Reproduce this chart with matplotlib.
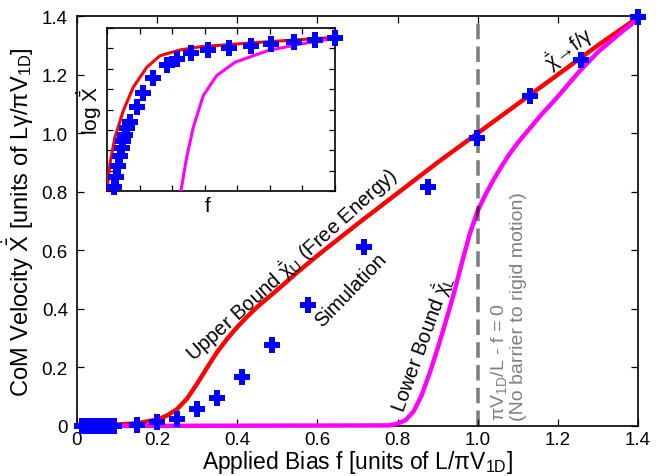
import matplotlib
matplotlib.use('Agg')
import matplotlib.pyplot as plt

plt.rcParams['font.family'] = ['Liberation Sans', 'DejaVu Sans']
plt.rcParams['mathtext.fontset'] = 'custom'
plt.rcParams['mathtext.rm'] = 'Liberation Sans'
plt.rcParams['mathtext.it'] = 'Liberation Sans'
plt.rcParams['mathtext.sf'] = 'Liberation Sans'
plt.rcParams['mathtext.bf'] = 'Liberation Sans:bold'

# ---------------- data ----------------
upper_f = [0, 0.05, 0.1, 0.15, 0.2, 0.225, 0.25, 0.275, 0.3, 0.325, 0.35, 0.375,
           0.4, 0.425, 0.45, 0.5, 0.55, 0.6, 0.7, 0.8, 0.9, 1.0, 1.1, 1.2, 1.3, 1.4]
upper_v = [0, 0.001, 0.005, 0.009, 0.022, 0.036, 0.058, 0.094, 0.145, 0.200, 0.253, 0.298,
           0.338, 0.374, 0.407, 0.465, 0.525, 0.582, 0.690, 0.795, 0.900, 1.0, 1.1, 1.2, 1.3, 1.395]

lower_f = [0, 0.78, 0.80, 0.82, 0.84, 0.86, 0.88, 0.90, 0.92, 0.94, 0.96, 0.98, 1.0,
           1.02, 1.04, 1.06, 1.08, 1.10, 1.12, 1.16, 1.2, 1.25, 1.3, 1.35, 1.4]
lower_v = [0, 0.002, 0.008, 0.020, 0.050, 0.105, 0.180, 0.265, 0.355, 0.450, 0.555, 0.655, 0.735,
           0.792, 0.842, 0.888, 0.930, 0.967, 1.000, 1.065, 1.125, 1.205, 1.277, 1.335, 1.390]

sim_f = [0.012, 0.020, 0.028, 0.036, 0.044, 0.052, 0.060, 0.068, 0.076, 0.084, 0.092,
         0.149, 0.199, 0.249, 0.299, 0.349, 0.411, 0.487, 0.576, 0.717, 0.877, 0.998, 1.131, 1.259, 1.40]
sim_v = [0, 0, 0, 0, 0, 0, 0, 0, 0, 0, 0,
         0.002, 0.015, 0.024, 0.058, 0.095, 0.168, 0.277, 0.414, 0.610, 0.816, 0.982, 1.126, 1.251, 1.395]

barrier_f = 1.0

tick_vals = [0, 0.2, 0.4, 0.6, 0.8, 1.0, 1.2, 1.4]
tick_labels = ['0', '0.2', '0.4', '0.6', '0.8', '1.0', '1.2', '1.4']

# inset (log of velocity vs f)
in_upper_f = [0, 0.018, 0.049, 0.100, 0.161, 0.244, 0.325, 0.448, 0.571, 0.939, 1.40]
in_upper_y = [-8.0, -6.67, -5.36, -4.06, -2.91, -1.93, -1.36, -1.08, -0.92, -0.70, -0.46]
in_lower_f = [0.454, 0.489, 0.530, 0.591, 0.673, 0.786, 0.988, 1.185, 1.40]
in_lower_y = [-8.0, -6.35, -4.87, -3.32, -2.34, -1.68, -1.11, -0.79, -0.51]
in_sim_f = [0.043, 0.055, 0.069, 0.080, 0.090, 0.100, 0.110, 0.125, 0.141, 0.187, 0.224,
            0.284, 0.366, 0.432, 0.516, 0.622, 0.751, 0.886, 1.005, 1.146, 1.277, 1.402]
in_sim_y = [-7.82, -7.33, -6.77, -6.28, -5.89, -5.57, -5.25, -4.93, -4.61, -3.88, -3.17,
            -2.45, -1.83, -1.52, -1.24, -1.08, -1.00, -0.90, -0.77, -0.70, -0.57, -0.49]
in_xticks = [0, 0.2, 0.4, 0.6, 0.8, 1.0, 1.2, 1.4]
in_yticks = [-8, -7, -6, -5, -4, -3, -2, -1, 0]

# ---------------- figure ----------------
fig = plt.figure(figsize=(6.65, 4.77), dpi=100)
ax = fig.add_axes([77/665, 1 - 427/477, 561/665, 410/477])

ax.plot(upper_f, upper_v, color='#ff0000', lw=3.2, solid_capstyle='butt',
        solid_joinstyle='round', zorder=3, clip_on=False)
ax.plot(lower_f, lower_v, color='#ff00ff', lw=3.2, solid_capstyle='butt',
        solid_joinstyle='round', zorder=3.5, clip_on=False)
ax.axvline(barrier_f, color='black', alpha=0.5, lw=2.6, linestyle=(0, (4.3, 2.0)), zorder=4)
ax.plot(sim_f, sim_v, linestyle='none', marker='P', markersize=11, color='#0000ff',
        markeredgewidth=0, zorder=5, clip_on=False)

ax.set_xlim(0, 1.4)
ax.set_ylim(0, 1.4)
ax.set_xticks(tick_vals)
ax.set_xticklabels(tick_labels)
ax.set_yticks(tick_vals)
ax.set_yticklabels(tick_labels)
ax.tick_params(direction='in', top=True, right=True, length=5, width=0.9, labelsize=13.5)
ax.tick_params(axis='x', pad=3.5)
ax.tick_params(axis='y', pad=6.5)
for s in ax.spines.values():
    s.set_linewidth(1.2)

ax.set_xlabel(r'Applied Bias f [units of L/$\pi$V$_{\rm 1D}$]', fontsize=16.5, labelpad=0)
ax.set_ylabel(r'CoM Velocity $\dot{\bar{X}}$ [units of L$\gamma$/$\pi$V$_{\rm 1D}$]',
              fontsize=17, labelpad=4)

ax.text(0.535, 0.555, r'Upper Bound $\dot{\bar{\chi}}_{\rm U}$ (Free Energy)', rotation=42,
        fontsize=14.5, ha='center', va='center', rotation_mode='anchor')
ax.text(0.683, 0.468, 'Simulation', rotation=46, fontsize=14.5, ha='center', va='center',
        rotation_mode='anchor')
ax.text(0.862, 0.285, r'Lower Bound $\dot{\bar{\chi}}_{\rm L}$', rotation=70, fontsize=14.5,
        ha='center', va='center', rotation_mode='anchor')
ax.text(1.228, 1.29, r'$\dot{\bar{\chi}}\!\rightarrow\!$f/$\gamma$', rotation=37, fontsize=14.5,
        ha='center', va='center', rotation_mode='anchor')
ax.text(1.076, 0.022, r'$\pi$V$_{\rm 1D}$/L - f = 0' + '\n(No barrier to rigid motion)',
        rotation=90, fontsize=14, color='#808080', ha='center', va='bottom',
        multialignment='left', linespacing=1.05)

# ---------------- inset ----------------
ins = fig.add_axes([107/665, 1 - 192/477, 228/665, 163/477])
ins.plot(in_upper_f, in_upper_y, color='#ff0000', lw=2.2, zorder=3)
ins.plot(in_lower_f, in_lower_y, color='#ff00ff', lw=2.2, zorder=3)
ins.plot(in_sim_f, in_sim_y, linestyle='none', marker='P', markersize=11, color='#0000ff',
         markeredgewidth=0, zorder=5, clip_on=False)
ins.set_xlim(0, 1.4)
ins.set_ylim(-8, 0)
ins.set_xticks(in_xticks)
ins.set_yticks(in_yticks)
ins.set_xticklabels([])
ins.set_yticklabels([])
ins.tick_params(direction='in', top=True, right=True, length=4, width=0.9)
for s in ins.spines.values():
    s.set_linewidth(1.2)
ins.set_xlabel('f', fontsize=15, labelpad=2)
ins.xaxis.set_label_coords(0.443, -0.03, transform=ins.transAxes)
ins.xaxis.label.set_va('top')
ins.set_ylabel(r'log $\dot{\bar{X}}$', fontsize=15, labelpad=-1)

fig.savefig('out.png', dpi=100)
